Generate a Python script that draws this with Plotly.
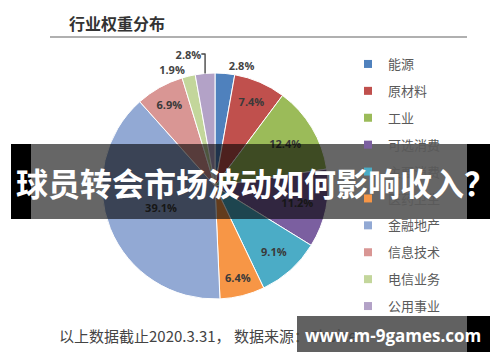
import plotly.graph_objects as go

categories = ["能源", "原材料", "工业", "可选消费", "主要消费", "医药卫生", "金融地产", "信息技术", "电信业务", "公用事业"]
weights = [2.8, 7.4, 12.4, 11.2, 9.1, 6.4, 39.1, 6.9, 1.9, 2.8]
colors = ["#4F81BD", "#C0504D", "#9BBB59", "#7B5FA0", "#4BACC6", "#F79646", "#92A9D4", "#D99694", "#C3D69B", "#B3A2C7"]
text_pos = ["outside", "inside", "inside", "inside", "inside", "inside", "inside", "inside", "outside", "outside"]

W, H = 500, 362
def px(x):
    return x / W
def py(y):
    return 1 - y / H

fig = go.Figure()
fig.add_trace(go.Pie(
    labels=categories, values=weights, sort=False, direction="clockwise", rotation=0,
    marker=dict(colors=colors, line=dict(color="white", width=1)),
    texttemplate="%{value:.1f}%", textposition=text_pos,
    insidetextorientation="horizontal",
    textfont=dict(family="Open Sans", size=11, color="#3a3a3a", weight="bold"),
    outsidetextfont=dict(family="Open Sans", size=11, color="#444", weight="bold"),
    domain=dict(x=[px(102), px(328)], y=[py(299), py(73)]),
    showlegend=False, hoverinfo="skip",
))

# legend via dummy marker traces (one per category)
for c, col in zip(categories, colors):
    fig.add_trace(go.Scatter(x=[None], y=[None], mode="markers", name=c,
                             marker=dict(symbol="square", size=8, color=col),
                             legendgroup=c, showlegend=True))

fig.update_layout(
    width=W, height=H, margin=dict(l=0, r=0, t=0, b=0),
    paper_bgcolor="white", plot_bgcolor="white",
    xaxis=dict(visible=False, domain=[0.95, 1]), yaxis=dict(visible=False, domain=[0.95, 1]),
    legend=dict(x=px(348), y=py(49), xanchor="left", yanchor="top",
                font=dict(family="Noto Sans CJK SC", size=13, color="#5a5a5a"),
                tracegroupgap=7, itemwidth=30, bgcolor="rgba(0,0,0,0)"),
    font=dict(family="Noto Sans CJK SC"),
)

shapes = [
    dict(type="line", xref="paper", yref="paper", x0=px(50), x1=px(467), y0=py(37), y1=py(37),
         line=dict(color="#b0b0b0", width=2)),
    # banner
    dict(type="rect", xref="paper", yref="paper", x0=px(31), x1=px(467), y0=py(219), y1=py(144),
         fillcolor="rgba(0,0,0,0.6)", line=dict(width=0), layer="above"),
    dict(type="rect", xref="paper", yref="paper", x0=px(11), x1=px(31), y0=py(219), y1=py(144),
         fillcolor="black", line=dict(width=0), layer="above"),
    dict(type="rect", xref="paper", yref="paper", x0=px(467), x1=px(490), y0=py(219), y1=py(144),
         fillcolor="black", line=dict(width=0), layer="above"),
    # watermark box
    dict(type="rect", xref="paper", yref="paper", x0=px(297), x1=px(467), y0=py(352), y1=py(316),
         fillcolor="rgba(0,0,0,0.62)", line=dict(width=0), layer="above"),
    dict(type="rect", xref="paper", yref="paper", x0=px(467), x1=px(490), y0=py(352), y1=py(316),
         fillcolor="black", line=dict(width=0), layer="above"),
]

annotations = [
    dict(text="行业权重分布", x=px(67), y=py(23), xref="paper", yref="paper", xanchor="left", yanchor="middle",
         showarrow=False, font=dict(family="Noto Sans CJK SC", size=16, color="#333", weight="bold")),
    dict(text="以上数据截止2020.3.31， 数据来源：Choice", x=px(57), y=py(335), xref="paper", yref="paper",
         xanchor="left", yanchor="middle", showarrow=False,
         font=dict(family="Noto Sans CJK SC", size=15, color="#444")),
    dict(text="球员转会市场波动如何影响收入？", x=px(256), y=py(182), xref="paper", yref="paper",
         xanchor="center", yanchor="middle", showarrow=False,
         font=dict(family="Noto Sans CJK SC", size=32, color="white", weight="bold")),
    dict(text="www.m-9games.com", x=px(393), y=py(335), xref="paper", yref="paper",
         xanchor="center", yanchor="middle", showarrow=False,
         font=dict(family="Open Sans", size=17, color="white", weight="bold")),
]

fig.update_layout(shapes=shapes, annotations=annotations)
fig.write_html("out.html", config={"displayModeBar": False},
               post_script="document.body.style.margin='0';")
